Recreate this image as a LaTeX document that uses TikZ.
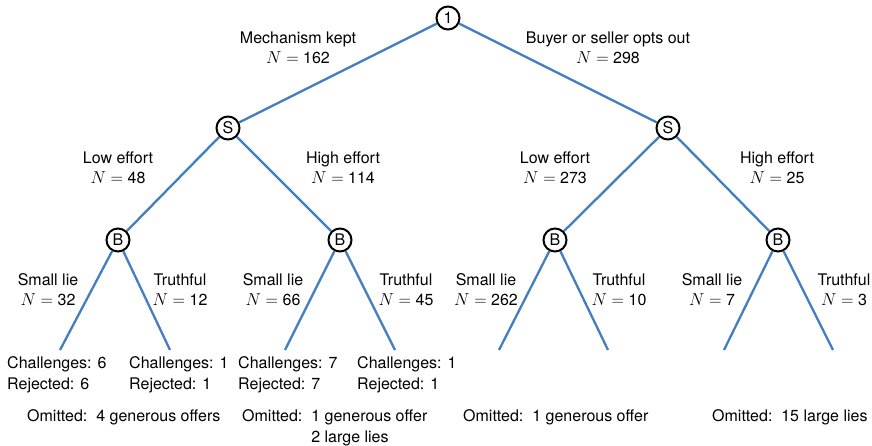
\documentclass[tikz,border=0pt]{standalone}
\usepackage{fontspec}
\setmainfont{TeX Gyre Heros}
\definecolor{edgeblue}{RGB}{66,126,192}
\begin{document}
\begin{tikzpicture}[x=1pt,y=-1pt,
  dec/.style={circle,draw=black,line width=2pt,inner sep=0pt,minimum size=23pt,font=\fontsize{16}{18}\selectfont},
  edge/.style={draw=edgeblue,line width=2.3pt},
  lab/.style={align=center,inner sep=0pt,font=\fontsize{16}{20}\selectfont},
  leaf/.style={align=left,anchor=west,inner sep=0pt,font=\fontsize{16}{21}\selectfont},
  omit/.style={anchor=base west,inner sep=0pt,font=\fontsize{16}{21}\selectfont}]
\useasboundingbox (0,0) rectangle (872,446);
% decision nodes
\node[dec] (r) at (448,18) {1};
\node[dec] (s1) at (228,128) {S};
\node[dec] (s2) at (668,128) {S};
\node[dec] (b1) at (118,240) {B};
\node[dec] (b2) at (340,240) {B};
\node[dec] (b3) at (555,240) {B};
\node[dec] (b4) at (778,240) {B};
% leaf ends
\coordinate (l1) at (60,350);
\coordinate (l2) at (170,350);
\coordinate (l3) at (285,350);
\coordinate (l4) at (395,350);
\coordinate (l5) at (499,350);
\coordinate (l6) at (608,350);
\coordinate (l7) at (724,350);
\coordinate (l8) at (833,350);
% edges
\draw[edge] (r) -- (s1);
\draw[edge] (r) -- (s2);
\draw[edge] (s1) -- (b1);
\draw[edge] (s1) -- (b2);
\draw[edge] (s2) -- (b3);
\draw[edge] (s2) -- (b4);
\draw[edge] (b1) -- (l1);
\draw[edge] (b1) -- (l2);
\draw[edge] (b2) -- (l3);
\draw[edge] (b2) -- (l4);
\draw[edge] (b3) -- (l5);
\draw[edge] (b3) -- (l6);
\draw[edge] (b4) -- (l7);
\draw[edge] (b4) -- (l8);
% edge labels
\node[lab] (e1) at (298,48) {Mechanism kept\\$N=$ 162};
\node[lab] (e2) at (608,48) {Buyer or seller opts out\\$N=$ 298};
\node[lab] (e3) at (118,168) {Low effort\\$N=$ 48};
\node[lab] (e4) at (343,168) {High effort\\$N=$ 114};
\node[lab] (e5) at (555,168) {Low effort\\$N=$ 273};
\node[lab] (e6) at (777,168) {High effort\\$N=$ 25};
\node[lab] (e7) at (48,290) {Small lie\\$N=$ 32};
\node[lab] (e8) at (180,290) {Truthful\\$N=$ 12};
\node[lab] (e9) at (273,290) {Small lie\\$N=$ 66};
\node[lab] (e10) at (406,290) {Truthful\\$N=$ 45};
\node[lab] (e11) at (486,290) {Small lie\\$N=$ 262};
\node[lab] (e12) at (619,290) {Truthful\\$N=$ 10};
\node[lab] (e13) at (712,290) {Small lie\\$N=$ 7};
\node[lab] (e14) at (844,290) {Truthful\\$N=$ 3};
% leaf results
\node[leaf] (c1) at (7,375) {Challenges: 6\\Rejected: 6};
\node[leaf] (c2) at (129,375) {Challenges: 1\\Rejected: 1};
\node[leaf] (c3) at (238,375) {Challenges: 7\\Rejected: 7};
\node[leaf] (c4) at (357,375) {Challenges: 1\\Rejected: 1};
% omitted
\node[omit] (o1) at (27,421) {Omitted:\ \ 4 generous offers};
\node[omit] (o2) at (242,421) {\begin{tabular}[t]{@{}l@{\ \ }l@{}}Omitted: & 1 generous offer\\ & 2 large lies\end{tabular}};
\node[omit] (o3) at (463,421) {Omitted:\ \ 1 generous offer};
\node[omit] (o4) at (712,421) {Omitted:\ \ 15 large lies};
\end{tikzpicture}
\end{document}
